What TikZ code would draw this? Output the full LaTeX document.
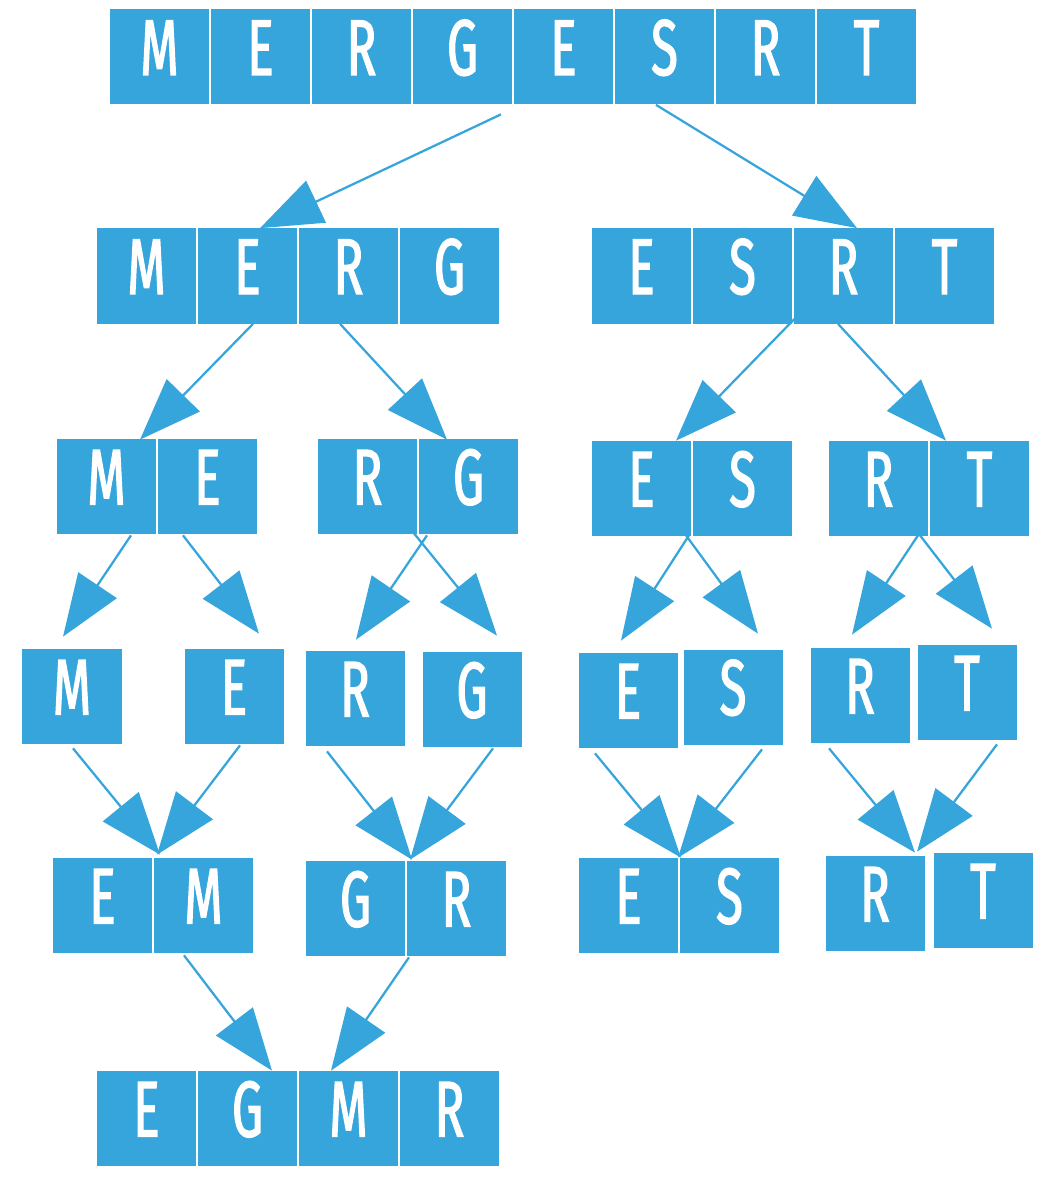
\documentclass[tikz,border=0pt]{standalone}
\usepackage{fontspec}
\usetikzlibrary{arrows.meta, calc}
\newfontfamily\cellfont[FakeStretch=0.62, FakeBold=1.6]{Fira Sans}
\definecolor{cellblue}{RGB}{53,165,219}
\tikzset{
    cell/.style={fill=cellblue, text=white, inner sep=0pt, minimum width=19.8mm, minimum height=19mm,
        font=\cellfont\fontsize{45pt}{45pt}\selectfont, text height=10.6mm, text depth=3.4mm},
    arr/.style={draw=cellblue, line width=0.45mm, -{Triangle[length=12.4mm, width=9.2mm]}},
}
\begin{document}
\begin{tikzpicture}[x=0.2mm, y=-0.2mm]
    \useasboundingbox (0,0) rectangle (1040,1178);

    % whole array
    \foreach \c [count=\i] in {M,E,R,G,E,S,R,T}
        \node[cell] (t\i) at ({58.5+101*\i},57) {\c};

    % halves
    \foreach \c [count=\i] in {M,E,R,G}
        \node[cell] (l\i) at ({45.5+101*\i},276) {\c};
    \foreach \c [count=\i] in {E,S,R,T}
        \node[cell] (r\i) at ({540.5+101*\i},276) {\c};

    % quarters
    \node[cell] (ll1) at (106.5,486.5) {M};
    \node[cell] (ll2) at (207.5,486.5) {E};
    \node[cell] (lr1) at (367.5,486.5) {R};
    \node[cell] (lr2) at (468.5,486.5) {G};
    \node[cell] (rl1) at (641.5,488.5) {E};
    \node[cell] (rl2) at (742.5,488.5) {S};
    \node[cell] (rr1) at (878.5,488.5) {R};
    \node[cell] (rr2) at (979.5,488.5) {T};

    % single cells
    \node[cell] (s1) at (72,696.5)  {M};
    \node[cell] (s2) at (234,696.5) {E};
    \node[cell] (s3) at (355,698.5) {R};
    \node[cell] (s4) at (472,699.5) {G};
    \node[cell] (s5) at (628,700.5) {E};
    \node[cell] (s6) at (733,697)   {S};
    \node[cell] (s7) at (860,695.5) {R};
    \node[cell] (s8) at (967,692.5) {T};

    % merged pairs
    \node[cell] (p1) at (102.5,905.5) {E};
    \node[cell] (p2) at (203.5,905.5) {M};
    \node[cell] (p3) at (355.5,908.5) {G};
    \node[cell] (p4) at (456.5,908.5) {R};
    \node[cell] (p5) at (628.5,905.5) {E};
    \node[cell] (p6) at (729.5,905.5) {S};
    \node[cell] (p7) at (875,903.5)   {R};
    \node[cell] (p8) at (983,900.5)   {T};

    % merged half
    \foreach \c [count=\i] in {E,G,M,R}
        \node[cell] (f\i) at ({45.5+101*\i},1118.5) {\c};

    % splitting
    \draw[arr] ($(t4.south)+(38.5,9.5)$) -- ($(l2.north)+(12.5,0)$);
    \draw[arr] ($(t6.south)+(-8.5,0)$) -- ($(r3.north)+(13.5,0)$);
    \draw[arr] ($(l2.south)+(5.5,0)$) -- ($(ll1.north)+(33.5,1)$);
    \draw[arr] ($(l3.south)+(-8.5,0)$) -- ($(lr2.north)+(-21.5,1)$);
    \draw[arr] ($(r3.south)+(-48.5,-5.5)$) -- ($(rl1.north)+(34.5,0)$);
    \draw[arr] ($(r3.south)+(-5.5,0)$) -- ($(rr2.north)+(-33.5,0)$);
    \draw[arr] ($(ll1.south)+(24.5,1)$) -- ($(s1.north)+(-9,-12)$);
    \draw[arr] ($(ll2.south)+(-24.5,1)$) -- ($(s2.north)+(25,-15)$);
    \draw[arr] ($(lr2.south)+(-41.5,1)$) -- ($(s3.north)+(1,-11)$);
    \draw[arr] ($(lr1.south)+(46.5,-1)$) -- ($(s4.north)+(25,-16)$);
    \draw[arr] ($(rl2.south)+(-53.5,-1)$) -- ($(s5.north)+(-7,-12)$);
    \draw[arr] ($(rl1.south)+(44.5,-1)$) -- ($(s6.north)+(25,-15.5)$);
    \draw[arr] ($(rr1.south)+(39.5,-1)$) -- ($(s7.north)+(-8,-13)$);
    \draw[arr] ($(rr1.south)+(41.5,-1)$) -- ($(s8.north)+(25,-16)$);

    % merging
    \draw[arr] ($(s1.south)+(1,4)$) -- ($(p2.north)+(-43.5,-3)$);
    \draw[arr] ($(s2.south)+(6,1)$) -- ($(p2.north)+(-46.5,-3)$);
    \draw[arr] ($(s3.south)+(-28,5)$) -- ($(p4.north)+(-44.5,-1)$);
    \draw[arr] ($(s4.south)+(21,1)$) -- ($(p4.north)+(-46.5,-1)$);
    \draw[arr] ($(s5.south)+(-33,5)$) -- ($(p6.north)+(-48.5,0)$);
    \draw[arr] ($(s6.south)+(29,4.5)$) -- ($(p6.north)+(-51.5,0)$);
    \draw[arr] ($(s7.south)+(-31,5)$) -- ($(p7.north)+(40,-3)$);
    \draw[arr] ($(s8.south)+(30,4)$) -- ($(p7.north)+(42,-4)$);
    \draw[arr] ($(p2.south)+(-19.5,2)$) -- ($(f2.north)+(24.5,0)$);
    \draw[arr] ($(p4.south)+(-47.5,1)$) -- ($(f3.north)+(-17.5,0)$);
\end{tikzpicture}
\end{document}
